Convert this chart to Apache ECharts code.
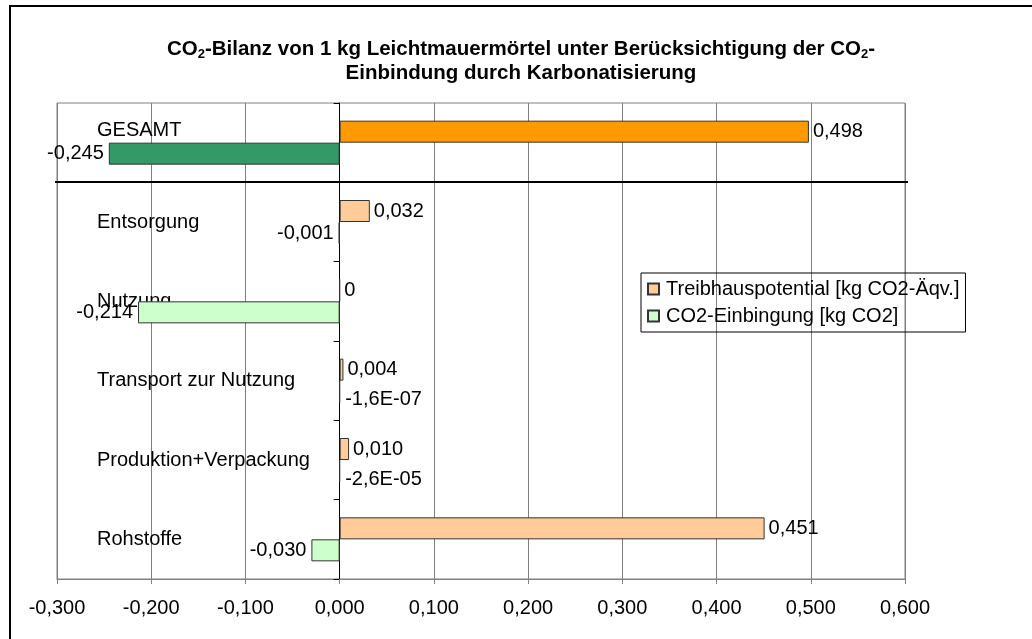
<!DOCTYPE html>
<html lang="de">
<head>
<meta charset="utf-8">
<title>CO2-Bilanz Leichtmauermörtel</title>
<script src="https://cdn.jsdelivr.net/npm/echarts@6.0.0/dist/echarts.min.js"></script>
<style>
  html, body { margin: 0; padding: 0; background: #fff; }
  #chart { width: 1032px; height: 639px; }
</style>
</head>
<body>
<div id="chart"></div>
<script>
// Kategorien von unten nach oben
const categories = ['Rohstoffe', 'Produktion+Verpackung', 'Transport zur Nutzung', 'Nutzung', 'Entsorgung', 'GESAMT']
const treibhaus = [0.451, 0.010, 0.004, 0, 0.032, 0.498]
const einbindung = [-0.030, -2.6e-5, -1.6e-7, -0.214, -0.001, -0.245]
const seriesNames = ['Treibhauspotential [kg CO2-Äqv.]', 'CO2-Einbingung [kg CO2]']
const xTicks = { min: -0.3, max: 0.6, step: 0.1 }

const FONT = 'Liberation Sans, Arial, sans-serif'

// Excel-artige Zahlen: 0,498 / -1,6E-07
const fmt = v => {
  if (v === 0) return '0'
  if (Math.abs(v) < 0.0005) {
    const [m, e] = v.toExponential(1).split('e')
    return m.replace('.', ',') + 'E' + (e[0] === '-' ? '-' : '+') + String(Math.abs(+e)).padStart(2, '0')
  }
  return v.toFixed(3).replace('.', ',')
}

const isTiny = v => v !== 0 && Math.abs(v) < 0.0005

const buildData = (vals, strongColor, negative) => vals.map((v, i) => {
  const item = { value: v }
  if (categories[i] === 'GESAMT') item.itemStyle = { color: strongColor }
  if (negative && isTiny(v)) item.label = { position: 'right', offset: [0, 8] }
  return item
})

const chartInstance = echarts.init(document.getElementById('chart'), null, { renderer: 'canvas' })

const option = {
  animation: false,
  textStyle: { fontFamily: FONT },
  title: {
    text: '{b|CO}{s|2}{b|-Bilanz von 1 kg Leichtmauermörtel unter Berücksichtigung der CO}{s|2}{b|-}\n{b|Einbindung durch Karbonatisierung}',
    left: 521,
    textAlign: 'center',
    top: 37,
    padding: 0,
    textStyle: {
      fontFamily: FONT,
      rich: {
        b: { fontFamily: FONT, fontSize: 20.5, fontWeight: 'bold', color: '#000', lineHeight: 24 },
        s: { fontFamily: FONT, fontSize: 13, fontWeight: 'bold', color: '#000', lineHeight: 14, verticalAlign: 'bottom' }
      }
    }
  },
  legend: {
    orient: 'vertical',
    left: 641,
    top: 273,
    padding: [6, 6, 6, 6],
    itemGap: 7,
    itemWidth: 11,
    itemHeight: 11,
    icon: 'rect',
    borderColor: '#000',
    borderWidth: 1,
    textStyle: { fontFamily: FONT, fontSize: 20, color: '#000', padding: [0, 0, 0, 2] },
    data: seriesNames
  },
  grid: {
    left: 57,
    right: 127,
    top: 103,
    bottom: 60,
    show: true,
    borderColor: '#808080',
    borderWidth: 1
  },
  xAxis: {
    type: 'value',
    min: xTicks.min,
    max: xTicks.max,
    interval: xTicks.step,
    axisLine: { show: true, lineStyle: { color: '#808080' } },
    axisTick: { show: true, length: 5, lineStyle: { color: '#808080' } },
    axisLabel: { fontFamily: FONT, fontSize: 20, color: '#000', margin: 19, formatter: v => v.toFixed(3).replace('.', ',') },
    splitLine: { show: true, lineStyle: { color: '#808080', width: 1 } }
  },
  yAxis: [
    {
      // Beschriftungen links im Diagramm
      type: 'category',
      data: categories,
      position: 'left',
      axisLine: { show: false, onZero: false },
      axisTick: { show: false },
      axisLabel: {
        fontFamily: FONT, fontSize: 20, color: '#000', align: 'left', margin: -40, lineHeight: 24,
        // GESAMT steht etwas höher
        formatter: v => v === 'GESAMT' ? v + '\n ' : v
      },
      splitLine: { show: false }
    },
    {
      // Achse bei 0
      type: 'category',
      data: categories,
      position: 'left',
      axisLine: { show: true, onZero: true, lineStyle: { color: '#000', width: 1 } },
      axisTick: { show: true, length: 6, lineStyle: { color: '#000' } },
      axisLabel: { show: false },
      splitLine: { show: false }
    }
  ],
  series: [
    {
      name: seriesNames[0],
      type: 'bar',
      yAxisIndex: 0,
      barWidth: 22,
      barGap: '0%',
      data: buildData(treibhaus, '#FF9900', false),
      itemStyle: { color: '#FFCC99', borderColor: '#333', borderWidth: 1 },
      label: { show: true, position: 'right', distance: 4, fontFamily: FONT, fontSize: 20, color: '#000', formatter: p => fmt(p.value) }
    },
    {
      name: seriesNames[1],
      type: 'bar',
      yAxisIndex: 0,
      barWidth: 22,
      barGap: '0%',
      data: buildData(einbindung, '#339966', true),
      itemStyle: { color: '#CCFFCC', borderColor: '#333', borderWidth: 1 },
      label: { show: true, position: 'left', distance: 5, fontFamily: FONT, fontSize: 20, color: '#000', formatter: p => fmt(p.value) }
    }
  ]
}

chartInstance.setOption(option)

// Trennlinie zwischen Entsorgung und GESAMT, aus der Achse berechnet
const yTop = chartInstance.convertToPixel({ yAxisIndex: 0 }, 'GESAMT')
const yBelow = chartInstance.convertToPixel({ yAxisIndex: 0 }, 'Entsorgung')
const sepY = Math.round((yTop + yBelow) / 2)
const xLeft = chartInstance.convertToPixel({ xAxisIndex: 0 }, xTicks.min)
const xRight = chartInstance.convertToPixel({ xAxisIndex: 0 }, xTicks.max)

chartInstance.setOption({
  graphic: [
    {
      // äußerer Rahmen (rechts/unten angeschnitten)
      type: 'rect',
      shape: { x: 10, y: 6, width: 1040, height: 660 },
      style: { fill: null, stroke: '#000', lineWidth: 2 },
      silent: true
    },
    {
      type: 'line',
      shape: { x1: xLeft - 2, y1: sepY, x2: xRight + 3, y2: sepY },
      style: { stroke: '#000', lineWidth: 2 },
      silent: true,
      z: 10
    }
  ]
})
</script>
</body>
</html>
